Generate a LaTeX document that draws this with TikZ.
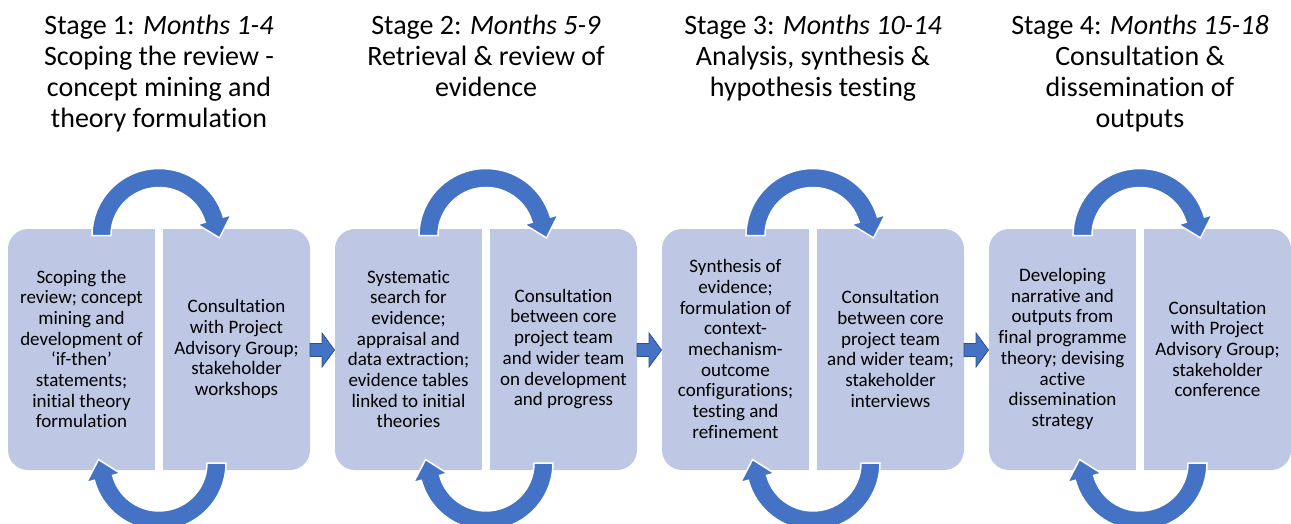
\documentclass[tikz,border=0pt]{standalone}
\usepackage{fontspec}
\setmainfont{Carlito}[Ligatures=NoCommon]
\usetikzlibrary{calc}
\definecolor{arcblue}{HTML}{4472C4}
\definecolor{arrowedge}{HTML}{2F528F}
\definecolor{boxfill}{RGB}{190,199,227}
\newcommand{\stagebox}[1]{%
  \fill[boxfill, rounded corners=20pt] (#1-151,-229) rectangle (#1+151,-470);
  \fill[white] (#1-4,-224) rectangle (#1+4,-476);
}
\newcommand{\toploop}[2]{%
  \coordinate (t#2) at (#1,-235.5);
  \path[loopshape] ($(t#2)+(180:67)$) arc[start angle=180, end angle=16, radius=67]
    -- ($(t#2)+(16:75)$) -- ($(t#2)+(16:57.5)+(-74:19)$) -- ($(t#2)+(16:40)$)
    -- ($(t#2)+(16:48)$) arc[start angle=16, end angle=180, radius=48] -- cycle;
}
\newcommand{\bottomloop}[2]{%
  \coordinate (b#2) at (#1,-463);
  \path[loopshape] ($(b#2)+(0:67)$) arc[start angle=0, end angle=-165, radius=67]
    -- ($(b#2)+(-165:75)$) -- ($(b#2)+(-165:57.5)+(105:19)$) -- ($(b#2)+(-165:40)$)
    -- ($(b#2)+(-165:48)$) arc[start angle=-165, end angle=0, radius=48] -- cycle;
}
\newcommand{\blockarrow}[2]{%
  \coordinate (a#2) at (#1,-350);
  \path[blockarrow] ($(a#2)+(0,6.5)$) -- ($(a#2)+(12,6.5)$) -- ($(a#2)+(12,17)$)
    -- ($(a#2)+(24.5,0)$) -- ($(a#2)+(12,-17)$) -- ($(a#2)+(12,-6.5)$)
    -- ($(a#2)+(0,-6.5)$) -- cycle;
}
\begin{document}
\begin{tikzpicture}[x=1pt,y=1pt,
  boxtext/.style={align=center, font=\fontsize{19}{20.7}\selectfont, inner sep=0pt, text=black},
  titletext/.style={align=center, font=\fontsize{28}{31}\selectfont, inner sep=0pt, anchor=north, text=black},
  loopshape/.style={fill=arcblue, draw=white, line width=1.5pt},
  blockarrow/.style={fill=arcblue, draw=arrowedge, line width=0.8pt},
]
\useasboundingbox (0,0) rectangle (1291,-524);

% titles
\node[titletext] (h1) at (159,-15) {Stage 1: \textit{Months 1-4}\\Scoping the review -\\concept mining and\\theory formulation};
\node[titletext] (h2) at (486,-15) {Stage 2: \textit{Months 5-9}\\Retrieval \& review of\\evidence};
\node[titletext] (h3) at (813,-15) {Stage 3: \textit{Months 10-14}\\Analysis, synthesis \&\\hypothesis testing};
\node[titletext] (h4) at (1140,-15) {Stage 4: \textit{Months 15-18}\\Consultation \&\\dissemination of\\outputs};

% boxes
\stagebox{159}
\stagebox{486}
\stagebox{813}
\stagebox{1140}

% box texts
\node[boxtext] (s1a) at (81.5,-349) {Scoping the\\review; concept\\mining and\\development of\\‘if-then’\\statements;\\initial theory\\formulation};
\node[boxtext] (s1b) at (236.5,-349) {Consultation\\with Project\\Advisory Group;\\stakeholder\\workshops};
\node[boxtext] (s2a) at (408.5,-349) {Systematic\\search for\\evidence;\\appraisal and\\data extraction;\\evidence tables\\linked to initial\\theories};
\node[boxtext] (s2b) at (563.5,-349) {Consultation\\between core\\project team\\and wider team\\on development\\and progress};
\node[boxtext] (s3a) at (735.5,-349) {Synthesis of\\evidence;\\formulation of\\context-\\mechanism-\\outcome\\configurations;\\testing and\\refinement};
\node[boxtext] (s3b) at (890.5,-349) {Consultation\\between core\\project team\\and wider team;\\stakeholder\\interviews};
\node[boxtext] (s4a) at (1062.5,-349) {Developing\\narrative and\\outputs from\\final programme\\theory; devising\\active\\dissemination\\strategy};
\node[boxtext] (s4b) at (1217.5,-349) {Consultation\\with Project\\Advisory Group;\\stakeholder\\conference};

% loops
\toploop{159}{1}
\toploop{486}{2}
\toploop{813}{3}
\toploop{1140}{4}
\bottomloop{159}{1}
\bottomloop{486}{2}
\bottomloop{813}{3}
\bottomloop{1140}{4}

% block arrows between stages
\blockarrow{310}{1}
\blockarrow{637}{2}
\blockarrow{964}{3}
\end{tikzpicture}
\end{document}
